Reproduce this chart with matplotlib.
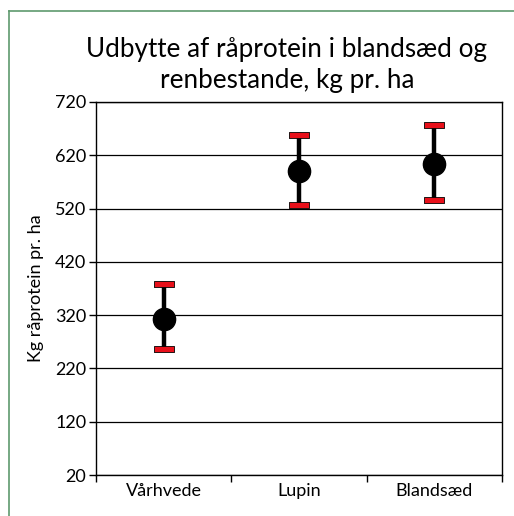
import matplotlib.pyplot as plt
from matplotlib.lines import Line2D

categories = ["Vårhvede", "Lupin", "Blandsæd"]
values = [313, 591, 603]
lower = [257, 526, 537]
upper = [378, 659, 676]
yticks = [20, 120, 220, 320, 420, 520, 620, 720]

plt.rcParams['font.family'] = ['Lato', 'DejaVu Sans']

fig = plt.figure(figsize=(5.14, 5.16), dpi=100)
ax = fig.add_axes([96 / 514, 1 - 475 / 516, 406 / 514, 373 / 516])

# green frame (only left and top visible in the crop)
fig.add_artist(Line2D([9 / 514, 9 / 514], [0, 1 - 11 / 516], color="#5f9a6e", lw=1.2))
fig.add_artist(Line2D([9 / 514, 1], [1 - 11 / 516, 1 - 11 / 516], color="#5f9a6e", lw=1.2))

x = list(range(len(categories)))
for i in x:
    ax.plot([i, i], [lower[i], upper[i]], color="black", lw=3.2, zorder=3)

cap = [(-1, -0.3), (1, -0.3), (1, 0.3), (-1, 0.3), (-1, -0.3)]
ax.plot(x, lower, ls="none", marker=cap, ms=14, mfc="#e8101a", mec="black",
        mew=0.6, zorder=4)
ax.plot(x, upper, ls="none", marker=cap, ms=14, mfc="#e8101a", mec="black",
        mew=0.6, zorder=4)
ax.plot(x, values, ls="none", marker="o", ms=16, color="black", zorder=5)

ax.set_ylim(20, 720)
ax.set_yticks(yticks)
ax.tick_params(axis="y", labelsize=13, length=5, width=1, direction="out", pad=2)
ax.yaxis.grid(True, color="black", lw=0.9)
ax.set_axisbelow(True)

ax.set_xlim(-0.5, 2.5)
ax.set_xticks([-0.5, 0.5, 1.5, 2.5])
ax.set_xticklabels([])
ax.set_xticks(x, minor=True)
ax.set_xticklabels(categories, minor=True)
ax.tick_params(axis="x", which="major", length=5, width=1, direction="out")
ax.tick_params(axis="x", which="minor", length=0, labelsize=13, pad=6)

for s in ax.spines.values():
    s.set_color("black")
    s.set_linewidth(1)

ax.set_ylabel("Kg råprotein pr. ha", fontsize=13, labelpad=8)
fig.text(287 / 514, 1 - 65 / 516, "Udbytte af råprotein i blandsæd og\nrenbestande, kg pr. ha",
         fontsize=18.8, ha="center", va="center", linespacing=1.3)

fig.savefig("out.png", dpi=100)
